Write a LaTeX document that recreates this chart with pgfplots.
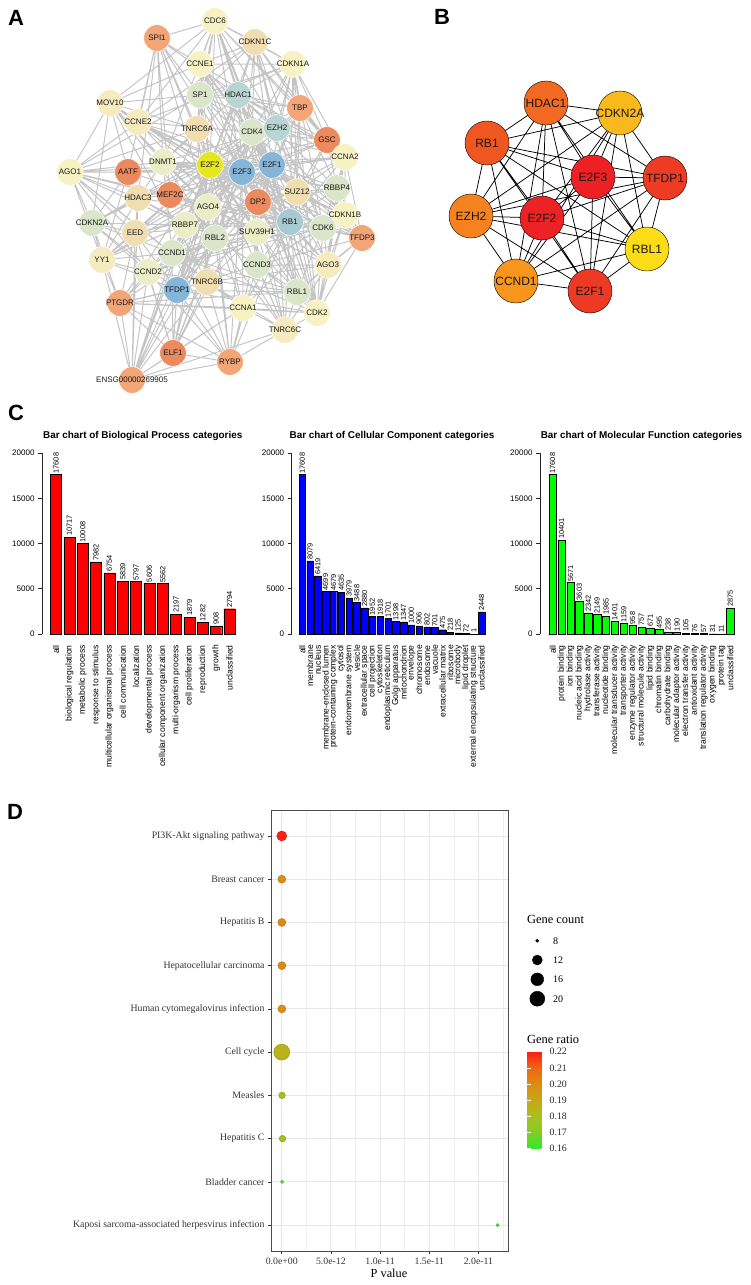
\documentclass[border=0pt]{standalone}
\usepackage{fontspec}
\setmainfont{Liberation Sans}
\newfontfamily\tnr{Liberation Serif}
\usepackage{pgfplots}
\usepackage{pgfplotstable}
\pgfplotsset{compat=1.18}
\pgfkeys{/pgf/number format/.cd, assume math mode=true, 1000 sep={}}
\newcommand\fs[1]{\fontsize{#1}{#1}\selectfont}

% panel A node colours
\definecolor{ly}{HTML}{F7F2C4}
\definecolor{lc}{HTML}{F5EBBE}
\definecolor{tn}{HTML}{F1DEB0}
\definecolor{pg}{HTML}{DAE5C9}
\definecolor{yg}{HTML}{E9EEC6}
\definecolor{pb}{HTML}{B9D5D3}
\definecolor{bl}{HTML}{86B5DA}
\definecolor{bg}{HTML}{A6C9D2}
\definecolor{or}{HTML}{F2A577}
\definecolor{do}{HTML}{EB8A5E}
\definecolor{ye}{HTML}{E7E71E}
% panel B node colours
\definecolor{bHD}{HTML}{F26A21}
\definecolor{bCK}{HTML}{F9B91C}
\definecolor{bRB}{HTML}{F0561F}
\definecolor{bE3}{HTML}{ED2124}
\definecolor{bTF}{HTML}{EE3B24}
\definecolor{bEZ}{HTML}{F5821F}
\definecolor{bE2}{HTML}{ED2224}
\definecolor{bRL}{HTML}{FBDC16}
\definecolor{bCC}{HTML}{F7951D}
\definecolor{bE1}{HTML}{EE3A24}

\pgfplotstableread[col sep=comma, row sep=\\]{
i,v,name\\
0,17608,all\\
1,10717,biological regulation\\
2,10008,metabolic process\\
3,7982,response to stimulus\\
4,6754,multicellular organismal process\\
5,5839,cell communication\\
6,5797,localization\\
7,5606,developmental process\\
8,5562,cellular component organization\\
9,2197,multi-organism process\\
10,1879,cell proliferation\\
11,1282,reproduction\\
12,908,growth\\
13,2794,unclassified\\
}\bp

\pgfplotstableread[col sep=comma, row sep=\\]{
i,v,name\\
0,17608,all\\
1,8079,membrane\\
2,6419,nucleus\\
3,4699,membrane-enclosed lumen\\
4,4679,protein-containing complex\\
5,4635,cytosol\\
6,3979,endomembrane system\\
7,3488,vesicle\\
8,2880,extracellular space\\
9,1952,cell projection\\
10,1918,cytoskeleton\\
11,1701,endoplasmic reticulum\\
12,1398,Golgi apparatus\\
13,1347,mitochondrion\\
14,1000,envelope\\
15,906,chromosome\\
16,802,endosome\\
17,701,vacuole\\
18,475,extracellular matrix\\
19,218,ribosome\\
20,125,microbody\\
21,72,lipid droplet\\
22,1,external encapsulating structure\\
23,2448,unclassified\\
}\cc

\pgfplotstableread[col sep=comma, row sep=\\]{
i,v,name\\
0,17608,all\\
1,10401,protein binding\\
2,5671,ion binding\\
3,3603,nucleic acid binding\\
4,2342,hydrolase activity\\
5,2149,transferase activity\\
6,1985,nucleotide binding\\
7,1401,molecular transducer activity\\
8,1159,transporter activity\\
9,958,enzyme regulator activity\\
10,757,structural molecule activity\\
11,671,lipid binding\\
12,495,chromatin binding\\
13,238,carbohydrate binding\\
14,190,molecular adaptor activity\\
15,105,electron transfer activity\\
16,76,antioxidant activity\\
17,57,translation regulator activity\\
18,31,oxygen binding\\
19,11,protein tag\\
20,2875,unclassified\\
}\mf

\pgfplotsset{
  gobar/.style={
    anchor=south west, scale only axis, height=181pt,
    ymin=0, ymax=20000, enlargelimits=false, clip=false,
    axis y line=left, axis x line=bottom,
    x axis line style={draw=none}, y axis line style={-, black!85, line width=0.6pt},
    xtick=data, xtick style={draw=none},
    ytick={0,5000,10000,15000,20000}, scaled y ticks=false,
    tick align=outside, major tick length=4pt,
    ytick style={black!85, line width=0.6pt},
    yticklabel style={font=\fs{8}},
    xticklabel style={rotate=90, anchor=east, font=\fs{8.6}, inner sep=0pt},
    xticklabel shift=7pt,
    nodes near coords,
    nodes near coords style={rotate=90, anchor=west, font=\fs{7.4}, inner sep=1pt},
  },
  nd/.style={only marks, mark=*, mark size=13.3pt,
    mark options={fill=#1, draw=white, line width=0.5pt},
    nodes near coords style={anchor=center, font=\fs{8}, text=black!90, inner sep=0pt}},
  ndb/.style={only marks, mark=*, mark size=22pt,
    mark options={fill=#1, draw=none},
    nodes near coords style={anchor=center, font=\fs{12}, text=black!90, inner sep=0pt}},
}

\begin{document}
\begin{tikzpicture}
\useasboundingbox (0pt,0pt) rectangle (750pt,-1285pt);

% ---------- C: three GO bar charts ----------
\begin{axis}[gobar, at={(42pt,-634pt)}, width=194.2pt, xmin=-1.05, xmax=13.5,
  xticklabels from table={\bp}{name}]
  \addplot[ybar, bar width=0.833, fill=red, draw=black, line width=0.4pt]
    table[x=i, y=v] {\bp};
\end{axis}

\begin{axis}[gobar, at={(291.7pt,-634pt)}, width=193.7pt, xmin=-1.36, xmax=23.5,
  xticklabels from table={\cc}{name}]
  \addplot[ybar, bar width=0.833, fill=blue, draw=black, line width=0.4pt]
    table[x=i, y=v] {\cc};
\end{axis}

\begin{axis}[gobar, at={(540pt,-634pt)}, width=194.7pt, xmin=-1.43, xmax=20.5,
  xticklabels from table={\mf}{name}]
  \addplot[ybar, bar width=0.833, fill=green, draw=black, line width=0.4pt]
    table[x=i, y=v] {\mf};
\end{axis}

% ---------- D: KEGG bubble chart ----------
\begin{axis}[
  at={(271pt,-1251pt)}, anchor=south west, scale only axis,
  width=237pt, height=441pt,
  xmin=-1.09e-12, xmax=2.30e-11, ymin=0.4, ymax=10.6, y dir=reverse,
  enlargelimits=false,
  xtick={0,5e-12,1e-11,1.5e-11,2e-11},
  xticklabels={0.0e+00,5.0e-12,1.0e-11,1.5e-11,2.0e-11},
  minor xtick={2.5e-12,7.5e-12,1.25e-11,1.75e-11,2.25e-11},
  scaled x ticks=false,
  ytick={1,2,3,4,5,6,7,8,9,10},
  yticklabels={PI3K-Akt signaling pathway,Breast cancer,Hepatitis B,Hepatocellular carcinoma,Human cytomegalovirus infection,Cell cycle,Measles,Hepatitis C,Bladder cancer,Kaposi sarcoma-associated herpesvirus infection},
  tick pos=left, tick align=outside, major tick length=3pt, minor tick length=0pt,
  tick style={black!80, line width=0.6pt},
  grid=both,
  major grid style={gray!18, line width=0.9pt},
  minor grid style={gray!13, line width=0.5pt},
  axis line style={black!70, line width=0.8pt},
  ticklabel style={font=\tnr\fs{9.8}, text=black!80},
  colormap={ratio}{rgb255=(45,235,45) rgb255=(130,205,35) rgb255=(168,192,30)
    rgb255=(198,168,22) rgb255=(222,140,18) rgb255=(240,100,20) rgb255=(255,30,20)},
  point meta min=0.16, point meta max=0.22,
  colorbar,
  colorbar style={
    at={(1.081,0.452)}, anchor=north west,
    width=19pt, height=97pt, scale only axis,
    y dir=normal,
    ytick={0.16,0.17,0.18,0.19,0.20,0.21,0.22},
    yticklabel style={font=\tnr\fs{9.8}, text=black!85,
      /pgf/number format/.cd, fixed, fixed zerofill, precision=2},
    ytick pos=both, yticklabel pos=right,
    tick align=inside, major tick length=3.5pt,
    tick style={white, line width=0.7pt},
    axis line style={draw=none},
  },
]
  \addplot[scatter, only marks, mark=*, point meta=\thisrow{ratio},
    visualization depends on={\thisrow{r}\as\rad},
    scatter/@pre marker code/.append style={/tikz/mark size=\rad pt}]
    table[x=p, y=row] {
row p count ratio r
1 5e-15 12 0.220 5.0
2 1.2e-14 10 0.200 4.0
3 1.2e-14 10 0.201 4.0
4 1.5e-14 10 0.201 4.0
5 2.0e-14 10 0.200 4.0
6 1e-15 22 0.186 8.0
7 3.0e-14 9 0.178 3.3
8 8.0e-14 9 0.177 3.3
9 4.0e-14 8 0.163 1.6
10 2.195e-11 8 0.160 1.6
};
\end{axis}

% ---------- overlay in pixel units: networks A, B, texts, size legend ----------
\begin{axis}[at={(0pt,0pt)}, anchor=north west, scale only axis,
  width=750pt, height=1285pt, xmin=0, xmax=750, ymin=0, ymax=1285,
  y dir=reverse, hide axis, clip=false, enlargelimits=false]

  % A edges
  \addplot[gray!60, line width=1pt, opacity=0.75, unbounded coords=jump, mark=none] coordinates {
(157,38)(200,64)(157,38)(200,95)(157,38)(197,129)(157,38)(210,165)(157,38)(163,162)(157,38)(128,172)(157,38)(138,122)(157,38)(238,95)(157,38)(242,172)(157,38)(170,195)(157,38)(215,21)(157,38)(208,207)(157,38)(138,198)
(nan,nan)
(215,21)(200,64)(215,21)(200,95)(215,21)(238,95)(215,21)(255,42)(215,21)(293,64)(215,21)(252,132)(215,21)(210,165)(215,21)(242,172)(215,21)(272,165)(215,21)(277,128)(215,21)(197,129)(215,21)(138,122)(215,21)(110,103)(215,21)(163,162)(215,21)(327,140)(215,21)(300,108)(215,21)(290,222)
(nan,nan)
(255,42)(200,64)(255,42)(200,95)(255,42)(238,95)(255,42)(252,132)(255,42)(272,165)(255,42)(242,172)(255,42)(210,165)(255,42)(293,64)(255,42)(277,128)(255,42)(300,108)(255,42)(138,122)(255,42)(317,313)(255,42)(323,228)(255,42)(327,140)
(nan,nan)
(293,64)(300,108)(293,64)(327,140)(293,64)(277,128)(293,64)(252,132)(293,64)(272,165)(293,64)(238,95)(293,64)(200,64)(293,64)(200,95)(293,64)(345,157)(293,64)(323,228)(293,64)(317,313)(293,64)(290,222)(293,64)(138,122)(293,64)(242,172)(293,64)(297,192)
(nan,nan)
(110,103)(70,172)(110,103)(138,122)(110,103)(197,129)(110,103)(208,207)(110,103)(328,265)(110,103)(207,282)(110,103)(285,330)(110,103)(200,95)(110,103)(200,64)(110,103)(210,165)(110,103)(128,172)(110,103)(92,223)(110,103)(163,162)
(nan,nan)
(300,108)(327,140)(300,108)(277,128)(300,108)(272,165)(300,108)(242,172)(300,108)(252,132)(300,108)(297,192)(300,108)(337,188)(300,108)(345,157)(300,108)(238,95)(300,108)(290,222)(300,108)(258,202)(300,108)(200,95)
(nan,nan)
(327,140)(345,157)(327,140)(337,188)(327,140)(297,192)(327,140)(272,165)(327,140)(277,128)(327,140)(252,132)(327,140)(238,95)(327,140)(242,172)(327,140)(290,222)(327,140)(210,165)
(nan,nan)
(345,157)(337,188)(345,157)(345,215)(345,157)(297,192)(345,157)(272,165)(345,157)(277,128)(345,157)(252,132)(345,157)(242,172)(345,157)(210,165)(345,157)(290,222)(345,157)(323,228)(345,157)(258,202)(345,157)(362,238)(345,157)(328,265)(345,157)(317,313)(345,157)(200,95)(345,157)(238,95)(345,157)(200,64)
(nan,nan)
(70,172)(128,172)(70,172)(138,122)(70,172)(163,162)(70,172)(210,165)(70,172)(138,198)(70,172)(170,195)(70,172)(92,223)(70,172)(102,260)(70,172)(135,233)(70,172)(208,207)(70,172)(185,225)(70,172)(197,129)(70,172)(207,282)(70,172)(172,253)(70,172)(242,172)(70,172)(200,95)(70,172)(148,272)
(nan,nan)
(92,223)(102,260)(92,223)(135,233)(92,223)(138,198)(92,223)(128,172)(92,223)(172,253)(92,223)(148,272)(92,223)(185,225)(92,223)(210,165)(92,223)(177,290)(92,223)(120,303)(92,223)(252,132)(92,223)(323,228)
(nan,nan)
(102,260)(135,233)(102,260)(148,272)(102,260)(138,198)(102,260)(128,172)(102,260)(172,253)(102,260)(177,290)(102,260)(210,165)(102,260)(185,225)(102,260)(120,303)(102,260)(132,380)(102,260)(242,172)(102,260)(272,165)
(nan,nan)
(120,303)(148,272)(120,303)(177,290)(120,303)(135,233)(120,303)(172,253)(120,303)(132,380)(120,303)(173,353)(120,303)(207,282)(120,303)(243,308)(120,303)(297,292)(120,303)(317,313)(120,303)(210,165)(120,303)(215,238)
(nan,nan)
(132,380)(173,353)(132,380)(230,362)(132,380)(177,290)(132,380)(148,272)(132,380)(172,253)(132,380)(207,282)(132,380)(243,308)(132,380)(135,233)(132,380)(185,225)(132,380)(210,165)(132,380)(285,330)(132,380)(215,238)(132,380)(138,198)(132,380)(208,207)
(nan,nan)
(173,353)(177,290)(173,353)(207,282)(173,353)(230,362)(173,353)(172,253)(173,353)(148,272)(173,353)(243,308)(173,353)(210,165)(173,353)(215,238)(173,353)(135,233)(173,353)(208,207)(173,353)(272,165)(173,353)(242,172)
(nan,nan)
(230,362)(243,308)(230,362)(207,282)(230,362)(177,290)(230,362)(172,253)(230,362)(210,165)(230,362)(215,238)(230,362)(242,172)(230,362)(148,272)(230,362)(285,330)(230,362)(257,265)(230,362)(290,222)(230,362)(135,233)(230,362)(120,303)
(nan,nan)
(285,330)(317,313)(285,330)(297,292)(285,330)(243,308)(285,330)(257,265)(285,330)(328,265)(285,330)(207,282)(285,330)(208,207)(285,330)(257,232)(285,330)(272,165)(285,330)(290,222)(285,330)(197,129)(285,330)(258,202)
(nan,nan)
(317,313)(297,292)(317,313)(328,265)(317,313)(243,308)(317,313)(257,265)(317,313)(323,228)(317,313)(290,222)(317,313)(272,165)(317,313)(242,172)(317,313)(200,64)(317,313)(345,215)(317,313)(362,238)(317,313)(138,122)(317,313)(252,132)(317,313)(297,192)(317,313)(172,253)(317,313)(177,290)(317,313)(210,165)
(nan,nan)
(362,238)(345,215)(362,238)(323,228)(362,238)(328,265)(362,238)(337,188)(362,238)(290,222)(362,238)(272,165)(362,238)(297,192)(362,238)(297,292)(362,238)(242,172)(362,238)(258,202)(362,238)(210,165)(362,238)(257,265)
(nan,nan)
(345,215)(337,188)(345,215)(323,228)(345,215)(328,265)(345,215)(272,165)(345,215)(290,222)(345,215)(297,192)(345,215)(252,132)(345,215)(200,64)(345,215)(242,172)(345,215)(172,253)(345,215)(257,265)(345,215)(138,122)(345,215)(148,272)
(nan,nan)
(328,265)(323,228)(328,265)(297,292)(328,265)(208,207)(328,265)(207,282)(328,265)(197,129)(328,265)(257,265)(328,265)(290,222)(328,265)(297,192)(328,265)(337,188)(328,265)(272,165)
(nan,nan)
(210,165)(290,222)(242,172)(215,238)(272,165)(297,292)(177,290)(258,202)(172,253)(252,132)(257,265)(323,228)(148,272)(242,172)(238,95)(290,222)(138,198)(272,165)(257,232)(210,165)(277,128)(185,225)(297,192)(135,233)(242,172)(163,162)(290,222)(200,95)(272,165)(172,253)(297,292)(210,165)(177,290)(242,172)(258,202)(210,165)
(nan,nan)
(337,188)(238,95)(185,225)(138,198)(215,238)(252,132)(297,292)(323,228)(290,222)(148,272)(252,132)(177,290)(272,165)(258,202)(215,238)(257,232)(238,95)(277,128)(297,192)(337,188)(135,233)(277,128)(138,198)(163,162)(238,95)(200,95)(210,165)(257,265)(242,172)(323,228)(210,165)(170,195)(272,165)(128,172)(242,172)(172,253)
(nan,nan)
(197,129)(208,207)(207,282)(197,129)(163,162)(208,207)(170,195)(197,129)(200,95)(208,207)(257,232)(207,282)(243,308)(208,207)(177,290)
(nan,nan)
(200,64)(272,165)(138,122)(210,165)(200,64)(252,132)(138,122)(323,228)(200,64)(290,222)(138,122)(242,172)(200,64)(200,95)(242,172)(200,95)(252,132)(238,95)(272,165)(238,95)(210,165)(243,308)(272,165)(243,308)(290,222)(243,308)(242,172)(243,308)(172,253)(243,308)(323,228)
(nan,nan)
(297,192)(272,165)(337,188)(242,172)(337,188)(290,222)(337,188)(210,165)(185,225)(272,165)(185,225)(242,172)(185,225)(290,222)(135,233)(210,165)(135,233)(337,188)(163,162)(272,165)(163,162)(210,165)(170,195)(138,198)(170,195)(290,222)(128,172)(210,165)(128,172)(138,198)(135,233)
(nan,nan)
(172,253)(323,228)(172,253)(252,132)(148,272)(323,228)(257,265)(252,132)(148,272)(290,222)(257,265)(297,292)(172,253)(215,238)(148,272)(297,292)(257,265)(215,238)(290,222)(297,292)(215,238)(177,290)(297,292)(258,202)(177,290)(272,165)(177,290)(257,232)(177,290)(257,265)(258,202)(290,222)
(nan,nan)
(252,132)(323,228)(277,128)(297,192)(252,132)(290,222)(252,132)(272,165)(252,132)(210,165)(252,132)(242,172)(323,228)(272,165)(257,232)(290,222)(257,232)(242,172)(257,232)(238,95)(200,95)(238,95)(163,162)(277,128)(163,162)(297,192)(163,162)(172,253)(163,162)(215,238)(238,95)(297,292)(238,95)(172,253)(238,95)(177,290)(238,95)(215,238)
  };

  % A nodes
  \addplot[nd=ly, nodes near coords={CDC6}] coordinates {(215,21)};
  \addplot[nd=or, nodes near coords={SPI1}] coordinates {(157,38)};
  \addplot[nd=tn, nodes near coords={CDKN1C}] coordinates {(255,42)};
  \addplot[nd=ly, nodes near coords={CCNE1}] coordinates {(200,64)};
  \addplot[nd=ly, nodes near coords={CDKN1A}] coordinates {(293,64)};
  \addplot[nd=pg, nodes near coords={SP1}] coordinates {(200,95)};
  \addplot[nd=pb, nodes near coords={HDAC1}] coordinates {(238,95)};
  \addplot[nd=lc, nodes near coords={MOV10}] coordinates {(110,103)};
  \addplot[nd=or, nodes near coords={TBP}] coordinates {(300,108)};
  \addplot[nd=lc, nodes near coords={CCNE2}] coordinates {(138,122)};
  \addplot[nd=tn, nodes near coords={TNRC6A}] coordinates {(197,129)};
  \addplot[nd=pg, nodes near coords={CDK4}] coordinates {(252,132)};
  \addplot[nd=pb, nodes near coords={EZH2}] coordinates {(277,128)};
  \addplot[nd=do, nodes near coords={GSC}] coordinates {(327,140)};
  \addplot[nd=ly, nodes near coords={CCNA2}] coordinates {(345,157)};
  \addplot[nd=ly, nodes near coords={AGO1}] coordinates {(70,172)};
  \addplot[nd=do, nodes near coords={AATF}] coordinates {(128,172)};
  \addplot[nd=yg, nodes near coords={DNMT1}] coordinates {(163,162)};
  \addplot[nd=ye, nodes near coords={E2F2}] coordinates {(210,165)};
  \addplot[nd=bl, nodes near coords={E2F3}] coordinates {(242,172)};
  \addplot[nd=bl, nodes near coords={E2F1}] coordinates {(272,165)};
  \addplot[nd=tn, nodes near coords={SUZ12}] coordinates {(297,192)};
  \addplot[nd=pg, nodes near coords={RBBP4}] coordinates {(337,188)};
  \addplot[nd=tn, nodes near coords={HDAC3}] coordinates {(138,198)};
  \addplot[nd=do, nodes near coords={MEF2C}] coordinates {(170,195)};
  \addplot[nd=yg, nodes near coords={AGO4}] coordinates {(208,207)};
  \addplot[nd=do, nodes near coords={DP2}] coordinates {(258,202)};
  \addplot[nd=bg, nodes near coords={RB1}] coordinates {(290,222)};
  \addplot[nd=ly, nodes near coords={CDKN1B}] coordinates {(345,215)};
  \addplot[nd=pg, nodes near coords={CDKN2A}] coordinates {(92,223)};
  \addplot[nd=tn, nodes near coords={EED}] coordinates {(135,233)};
  \addplot[nd=yg, nodes near coords={RBBP7}] coordinates {(185,225)};
  \addplot[nd=pg, nodes near coords={RBL2}] coordinates {(215,238)};
  \addplot[nd=yg, nodes near coords={SUV39H1}] coordinates {(257,232)};
  \addplot[nd=pg, nodes near coords={CDK6}] coordinates {(323,228)};
  \addplot[nd=or, nodes near coords={TFDP3}] coordinates {(362,238)};
  \addplot[nd=lc, nodes near coords={YY1}] coordinates {(102,260)};
  \addplot[nd=pg, nodes near coords={CCND1}] coordinates {(172,253)};
  \addplot[nd=yg, nodes near coords={CCND2}] coordinates {(148,272)};
  \addplot[nd=pg, nodes near coords={CCND3}] coordinates {(257,265)};
  \addplot[nd=lc, nodes near coords={AGO3}] coordinates {(328,265)};
  \addplot[nd=tn, nodes near coords={TNRC6B}] coordinates {(207,282)};
  \addplot[nd=bl, nodes near coords={TFDP1}] coordinates {(177,290)};
  \addplot[nd=pg, nodes near coords={RBL1}] coordinates {(297,292)};
  \addplot[nd=or, nodes near coords={PTGDR}] coordinates {(120,303)};
  \addplot[nd=ly, nodes near coords={CCNA1}] coordinates {(243,308)};
  \addplot[nd=ly, nodes near coords={CDK2}] coordinates {(317,313)};
  \addplot[nd=lc, nodes near coords={TNRC6C}] coordinates {(285,330)};
  \addplot[nd=do, nodes near coords={ELF1}] coordinates {(173,353)};
  \addplot[nd=or, nodes near coords={RYBP}] coordinates {(230,362)};
  \addplot[nd=or, nodes near coords={ENSG00000269905}] coordinates {(132,380)};

  % B edges
  \addplot[black, line width=0.75pt, unbounded coords=jump, mark=none] coordinates {
(546,103)(620,113)(546,103)(487,143)(546,103)(593,177)(546,103)(665,178)(546,103)(471,216)(546,103)(542,218)(546,103)(647,249)(546,103)(516,281)(546,103)(590,291)
(nan,nan)
(620,113)(487,143)(620,113)(593,177)(620,113)(665,178)(620,113)(471,216)(620,113)(542,218)(620,113)(647,249)(620,113)(516,281)(620,113)(590,291)
(nan,nan)
(487,143)(593,177)(487,143)(665,178)(487,143)(471,216)(487,143)(542,218)(487,143)(647,249)(487,143)(516,281)(487,143)(590,291)
(nan,nan)
(593,177)(665,178)(593,177)(471,216)(593,177)(542,218)(593,177)(647,249)(593,177)(516,281)(593,177)(590,291)
(nan,nan)
(665,178)(471,216)(665,178)(542,218)(665,178)(647,249)(665,178)(516,281)(665,178)(590,291)
(nan,nan)
(471,216)(542,218)(471,216)(647,249)(471,216)(516,281)(471,216)(590,291)
(nan,nan)
(542,218)(647,249)(542,218)(516,281)(542,218)(590,291)
(nan,nan)
(647,249)(516,281)(647,249)(590,291)
(nan,nan)
(516,281)(590,291)
  };

  % B nodes
  \addplot[ndb=bHD, nodes near coords={HDAC1}] coordinates {(546,103)};
  \addplot[ndb=bCK, nodes near coords={CDKN2A}] coordinates {(620,113)};
  \addplot[ndb=bRB, nodes near coords={RB1}] coordinates {(487,143)};
  \addplot[ndb=bE3, nodes near coords={E2F3}] coordinates {(593,177)};
  \addplot[ndb=bTF, nodes near coords={TFDP1}] coordinates {(665,178)};
  \addplot[ndb=bEZ, nodes near coords={EZH2}] coordinates {(471,216)};
  \addplot[ndb=bE2, nodes near coords={E2F2}] coordinates {(542,218)};
  \addplot[ndb=bRL, nodes near coords={RBL1}] coordinates {(647,249)};
  \addplot[ndb=bCC, nodes near coords={CCND1}] coordinates {(516,281)};
  \addplot[ndb=bE1, nodes near coords={E2F1}] coordinates {(590,291)};

  % D: gene count size legend
  \addplot[scatter, only marks, mark=*, point meta=\thisrow{count},
    scatter/use mapped color={draw=black, fill=black},
    visualization depends on={\thisrow{r}\as\rad},
    scatter/@pre marker code/.append style={/tikz/mark size=\rad pt}]
    table[x=x, y=y] {
x y count r
537.3 940.7 8 1.6
537.3 960.0 12 5.0
537.3 979.3 16 6.4
537.3 998.7 20 7.5
};

  % panel letters and texts
  \node[font=\bfseries\fs{22}] at (16,18) {A};
  \node[font=\bfseries\fs{22}] at (442,17) {B};
  \node[font=\bfseries\fs{22}] at (16,413) {C};
  \node[font=\bfseries\fs{22}] at (15,812) {D};

  \node[font=\bfseries\fs{9.9}] at (142.7,436) {Bar chart of Biological Process categories};
  \node[font=\bfseries\fs{9.9}] at (392,436) {Bar chart of Cellular Component categories};
  \node[font=\bfseries\fs{9.9}] at (641.5,436) {Bar chart of Molecular Function categories};

  \node[font=\tnr\fs{12.3}] at (389,1273) {P value};
  \node[font=\tnr\fs{12.4}, anchor=west, inner sep=0pt] at (527,919) {Gene count};
  \node[font=\tnr\fs{12.4}, anchor=west, inner sep=0pt] at (527,1039) {Gene ratio};
  \node[font=\tnr\fs{10}, anchor=west, inner sep=0pt] at (553,940.7) {8};
  \node[font=\tnr\fs{10}, anchor=west, inner sep=0pt] at (553,960.0) {12};
  \node[font=\tnr\fs{10}, anchor=west, inner sep=0pt] at (553,979.3) {16};
  \node[font=\tnr\fs{10}, anchor=west, inner sep=0pt] at (553,998.7) {20};
\end{axis}
\end{tikzpicture}
\end{document}
